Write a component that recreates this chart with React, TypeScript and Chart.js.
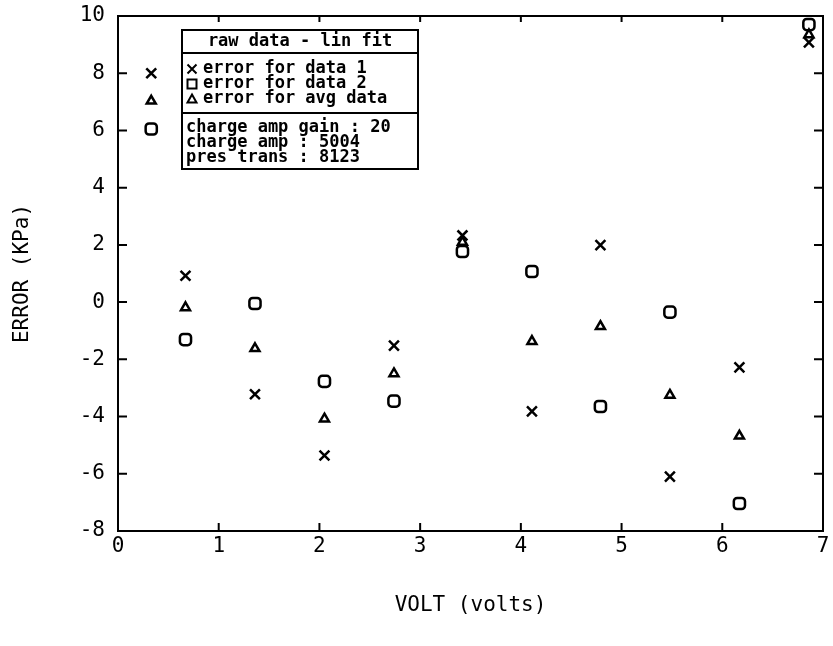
import React, { useEffect, useRef } from 'react';
import { Chart, registerables } from 'chart.js';

Chart.register(...registerables);

// ---- data ----
const voltX = [0.33, 0.67, 1.36, 2.05, 2.74, 3.42, 4.11, 4.79, 5.48, 6.17, 6.86];
const errData1 = [8.0, 0.92, -3.22, -5.36, -1.52, 2.33, -3.82, 1.99, -6.1, -2.28, 9.08];
const errData2 = [6.05, -1.31, -0.05, -2.77, -3.46, 1.77, 1.07, -3.65, -0.35, -7.04, 9.7];
const errAvg = [7.03, -0.19, -1.62, -4.08, -2.5, 2.1, -1.37, -0.85, -3.25, -4.68, 9.35];

const xTicks = [0, 1, 2, 3, 4, 5, 6, 7];
const yTicks = [-8, -6, -4, -2, 0, 2, 4, 6, 8, 10];

const legendTitle = 'raw data - lin fit';
const seriesLabels = ['error for data 1', 'error for data 2', 'error for avg data'];
const infoLines = ['charge amp gain : 20', 'charge amp : 5004', 'pres trans : 8123'];

const xTitle = 'VOLT (volts)';
const yTitle = 'ERROR (KPa)';

const INK = '#000000';
const MONO = '"DejaVu Sans Mono", monospace';

const frameTicksPlugin = {
  id: 'frameTicks',
  afterDraw(chart: any) {
    const { ctx, chartArea } = chart;
    const xs = chart.scales.x;
    const ys = chart.scales.y;
    ctx.save();
    ctx.strokeStyle = INK;
    ctx.lineWidth = 2;
    ctx.strokeRect(chartArea.left, chartArea.top, chartArea.right - chartArea.left, chartArea.bottom - chartArea.top);
    ctx.beginPath();
    xTicks.forEach((v) => {
      const px = xs.getPixelForValue(v);
      ctx.moveTo(px, chartArea.bottom);
      ctx.lineTo(px, chartArea.bottom - 8);
      ctx.moveTo(px, chartArea.top);
      ctx.lineTo(px, chartArea.top + 6);
    });
    yTicks.forEach((v) => {
      const py = ys.getPixelForValue(v);
      ctx.moveTo(chartArea.left, py);
      ctx.lineTo(chartArea.left + 9, py);
      ctx.moveTo(chartArea.right, py);
      ctx.lineTo(chartArea.right - 9, py);
    });
    ctx.stroke();
    ctx.restore();
  },
};

function drawSymbol(ctx: CanvasRenderingContext2D, kind: number, cx: number, cy: number) {
  ctx.beginPath();
  if (kind === 0) {
    ctx.moveTo(cx - 4.5, cy - 4.5);
    ctx.lineTo(cx + 4.5, cy + 4.5);
    ctx.moveTo(cx + 4.5, cy - 4.5);
    ctx.lineTo(cx - 4.5, cy + 4.5);
  } else if (kind === 1) {
    ctx.rect(cx - 4.5, cy - 4.5, 9, 9);
  } else {
    ctx.moveTo(cx, cy - 4.5);
    ctx.lineTo(cx + 4.5, cy + 3.5);
    ctx.lineTo(cx - 4.5, cy + 3.5);
    ctx.closePath();
  }
  ctx.stroke();
}

const boxLegendPlugin = {
  id: 'boxLegend',
  afterDraw(chart: any) {
    const { ctx, chartArea } = chart;
    const left = chartArea.left + 64;
    const right = chartArea.left + 300;
    const top = chartArea.top + 14;
    const div1 = top + 23;
    const div2 = top + 83;
    const bottom = top + 139;
    ctx.save();
    ctx.fillStyle = '#ffffff';
    ctx.fillRect(left, top, right - left, bottom - top);
    ctx.strokeStyle = INK;
    ctx.lineWidth = 2;
    ctx.strokeRect(left, top, right - left, bottom - top);
    ctx.beginPath();
    ctx.moveTo(left, div1);
    ctx.lineTo(right, div1);
    ctx.moveTo(left, div2);
    ctx.lineTo(right, div2);
    ctx.stroke();

    ctx.fillStyle = INK;
    ctx.textBaseline = 'middle';
    ctx.font = 'bold 17px ' + MONO;
    ctx.textAlign = 'center';
    ctx.fillText(legendTitle, (left + right) / 2, top + 12);

    ctx.textAlign = 'left';
    seriesLabels.forEach((lab, i) => {
      const ry = div1 + 16 + i * 15;
      drawSymbol(ctx, i, left + 10, ry);
      ctx.fillText(lab, left + 21, ry);
    });
    infoLines.forEach((lab, i) => {
      const ry = div2 + 15 + i * 15;
      ctx.fillText(lab, left + 4, ry);
    });
    ctx.restore();
  },
};

export default function App() {
  const ref = useRef<HTMLCanvasElement | null>(null);
  useEffect(() => {
    if (!ref.current) return;
    const mk = (xs: number[], ys: number[]) => xs.map((x, i) => ({ x, y: ys[i] }));
    const common = {
      showLine: false,
      borderColor: INK,
      backgroundColor: 'rgba(0,0,0,0)',
      pointBorderWidth: 2.5,
      pointHoverRadius: 6,
    };
    const chart = new Chart(ref.current, {
      type: 'scatter',
      data: {
        datasets: [
          { ...common, label: seriesLabels[0], data: mk(voltX, errData1), pointStyle: 'crossRot', pointRadius: 7 },
          { ...common, label: seriesLabels[1], data: mk(voltX, errData2), pointStyle: 'rectRounded', pointRadius: 6.5 },
          { ...common, label: seriesLabels[2], data: mk(voltX, errAvg), pointStyle: 'triangle', pointRadius: 5.2 },
        ],
      },
      options: {
        responsive: false,
        animation: false,
        events: [],
        layout: { padding: { left: 0, top: 16, right: 10, bottom: 0 } },
        plugins: { legend: { display: false }, tooltip: { enabled: false } },
        scales: {
          x: {
            type: 'linear',
            min: 0,
            max: 7,
            afterFit: (s: any) => { s.height = 115; s.paddingLeft = 0; s.paddingRight = 0; },
            afterBuildTicks: (s: any) => { s.ticks = xTicks.map((v) => ({ value: v })); },
            grid: { display: true, drawOnChartArea: false, drawTicks: false },
            border: { display: false },
            ticks: { color: INK, padding: 3, font: { family: MONO, size: 21 }, maxRotation: 0 },
            title: { display: true, text: xTitle, color: INK, font: { family: MONO, size: 21 }, padding: { top: 0, bottom: 28 } },
          },
          y: {
            type: 'linear',
            min: -8,
            max: 10,
            afterFit: (s: any) => { s.width = 118; s.paddingTop = 0; s.paddingBottom = 0; },
            afterBuildTicks: (s: any) => { s.ticks = yTicks.map((v) => ({ value: v })); },
            grid: { display: true, drawOnChartArea: false, drawTicks: false },
            border: { display: false },
            ticks: { color: INK, padding: 13, font: { family: MONO, size: 21 } },
            title: { display: true, text: yTitle, color: INK, font: { family: MONO, size: 21 }, padding: { top: 10, bottom: 0 } },
          },
        },
      },
      plugins: [frameTicksPlugin, boxLegendPlugin],
    } as any);
    return () => chart.destroy();
  }, []);
  return (
    <div style={{ position: 'absolute', left: 0, top: 0, width: 833, height: 646, background: '#ffffff' }}>
      <canvas ref={ref} width={833} height={646} style={{ display: 'block' }} />
    </div>
  );
}
